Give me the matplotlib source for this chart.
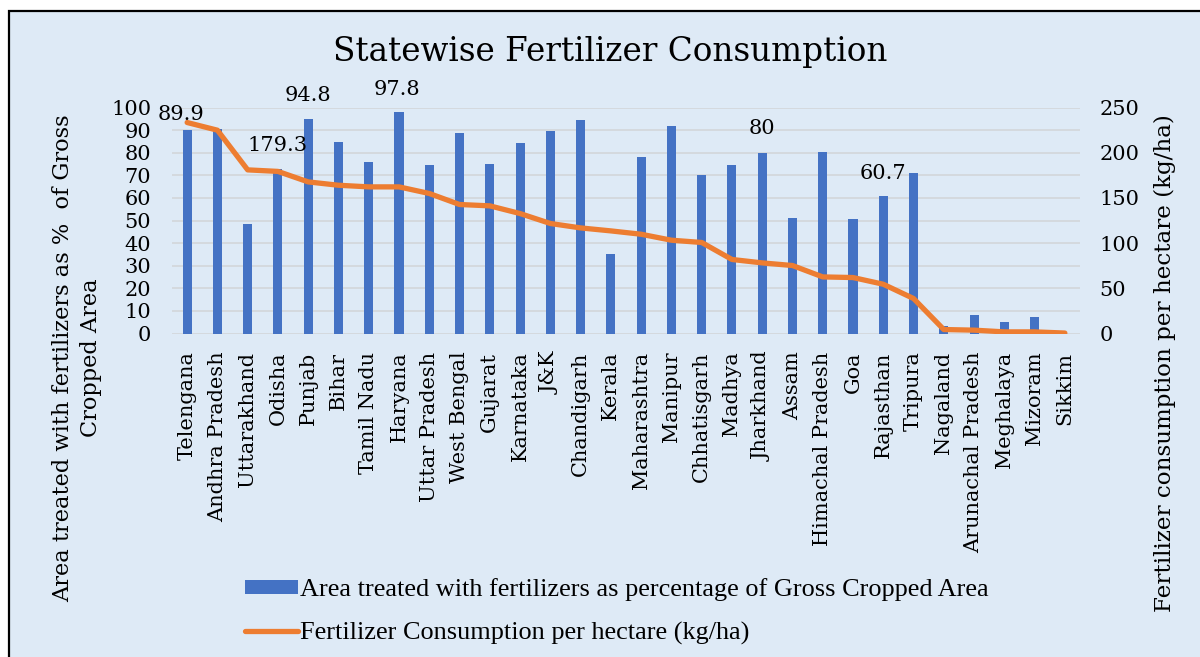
import matplotlib

matplotlib.use("Agg")
import matplotlib.pyplot as plt
import numpy as np
from matplotlib.patches import Rectangle
from matplotlib.lines import Line2D


STATES = [
    "Telengana", "Andhra Pradesh", "Uttarakhand", "Odisha", "Punjab", "Bihar",
    "Tamil Nadu", "Haryana", "Uttar Pradesh", "West Bengal", "Gujarat",
    "Karnataka", "J&K", "Chandigarh", "Kerala", "Maharashtra", "Manipur",
    "Chhatisgarh", "Madhya", "Jharkhand", "Assam", "Himachal Pradesh", "Goa",
    "Rajasthan", "Tripura", "Nagaland", "Arunachal Pradesh", "Meghalaya",
    "Mizoram", "Sikkim",
]

# % of gross cropped area treated with fertilizers
AREA_TREATED_PCT = [
    89.9, 90.5, 48.5, 72.6, 94.8, 84.7, 75.7, 97.8, 74.5, 88.9,
    75.2, 84.4, 89.6, 94.4, 35.2, 77.9, 92.0, 70.0, 74.6, 80.0,
    50.9, 80.2, 50.6, 60.7, 71.1, 3.2, 8.4, 4.9, 7.5, 0.0,
]

# fertilizer consumption, kg/ha
CONSUMPTION_KG_HA = [
    233.4, 224.9, 181.0, 179.3, 167.7, 164.0, 162.2, 162.2, 154.9, 142.7,
    141.2, 132.7, 121.7, 116.8, 113.5, 109.8, 103.2, 100.7, 81.9, 78.1,
    75.2, 62.6, 61.9, 54.5, 38.7, 4.4, 3.7, 1.8, 1.8, 0.5,
]

LABELLED_BARS = ["Telengana", "Punjab", "Haryana", "Jharkhand", "Rajasthan"]
LABELLED_LINE = ["Odisha"]

BAR_COLOR = "#4472C4"
LINE_COLOR = "#ED7D31"
BG_COLOR = "#DEEAF6"
GRID_COLOR = "#D3D6DA"
SERIF = "DejaVu Serif"

W, H = 1200, 657


def fx(px):
    return px / W


def fy(py):
    return 1 - py / H


def main():
    fig = plt.figure(figsize=(W / 100, H / 100), dpi=100)
    fig.patch.set_facecolor("white")
    fig.patches.append(
        Rectangle((fx(8.5), -0.05), 1.1, fy(10.5) + 0.05, transform=fig.transFigure,
                  facecolor=BG_COLOR, edgecolor="black", linewidth=1.6, zorder=-10)
    )

    ax = fig.add_axes([fx(172), fy(333.5), fx(1080) - fx(172), fy(107.5) - fy(333.5)])
    ax.set_facecolor("none")
    x = np.arange(len(STATES))

    ax.bar(x, AREA_TREATED_PCT, width=0.3, color=BAR_COLOR, zorder=2)
    ax.set_xlim(-0.5, len(STATES) - 0.5)
    ax.set_ylim(0, 100)
    ax.set_yticks(np.arange(0, 101, 10))
    ax.grid(axis="y", color=GRID_COLOR, linewidth=1.2, zorder=0)
    ax.set_axisbelow(True)
    ax.set_xticks(x)
    ax.set_xticklabels(STATES, rotation=90, fontsize=15, family=SERIF, va="top")
    ax.tick_params(axis="x", length=0, pad=13)
    ax.tick_params(axis="y", length=0, pad=15, labelsize=15)
    for lbl in ax.get_yticklabels():
        lbl.set_family(SERIF)
    for side in ["top", "right", "left", "bottom"]:
        ax.spines[side].set_visible(False)

    ax2 = ax.twinx()
    ax2.plot(x, CONSUMPTION_KG_HA, color=LINE_COLOR, linewidth=3.8,
             solid_joinstyle="round", solid_capstyle="round", zorder=3)
    ax2.set_ylim(0, 250)
    ax2.set_yticks(np.arange(0, 251, 50))
    ax2.tick_params(axis="y", length=0, pad=14, labelsize=15)
    for lbl in ax2.get_yticklabels():
        lbl.set_family(SERIF)
    for side in ["top", "right", "left", "bottom"]:
        ax2.spines[side].set_visible(False)

    # value labels, nudged the way the spreadsheet placed them
    bar_offsets = {"Telengana": (-6, 16), "Punjab": (0, 24), "Haryana": (-2, 23),
                   "Jharkhand": (0, 24), "Rajasthan": (0, 23)}
    for name in LABELLED_BARS:
        i = STATES.index(name)
        v = AREA_TREATED_PCT[i]
        ax2.annotate(f"{v:g}", xy=(i, v * 2.5), xytext=bar_offsets[name],
                     textcoords="offset pixels", ha="center", va="center",
                     fontsize=15, family=SERIF, zorder=5)
    for name in LABELLED_LINE:
        i = STATES.index(name)
        v = CONSUMPTION_KG_HA[i]
        ax2.annotate(f"{v:g}", xy=(i, v), xytext=(0, 26), textcoords="offset pixels",
                     ha="center", va="center", fontsize=15, family=SERIF, zorder=5)

    fig.text(fx(610), fy(52), "Statewise Fertilizer Consumption", ha="center", va="center",
             fontsize=23.5, family=SERIF)
    fig.text(fx(77), fy(358), "Area treated with fertilizers as %  of Gross\nCropped Area",
             rotation=90, ha="center", va="center", multialignment="center",
             fontsize=16.2, family=SERIF, linespacing=1.3)
    fig.text(fx(1165), fy(363), "Fertilizer consumption per hectare (kg/ha)", rotation=90,
             ha="center", va="center", fontsize=16.6, family=SERIF)

    handles = [
        Rectangle((0, 0), 1, 1, facecolor=BAR_COLOR),
        Line2D([0], [0], color=LINE_COLOR, linewidth=3.8, solid_capstyle="round"),
    ]
    labels = [
        "Area treated with fertilizers as percentage of Gross Cropped Area",
        "Fertilizer Consumption per hectare (kg/ha)",
    ]
    fig.legend(handles, labels, loc="upper left", bbox_to_anchor=(fx(245), fy(578)),
               frameon=False, borderpad=0, borderaxespad=0, handlelength=2.0,
               handleheight=0.45, handletextpad=0.1, labelspacing=0.78,
               prop={"family": "Liberation Serif", "size": 18.9})

    fig.savefig("out.png", dpi=100, facecolor=fig.get_facecolor())
    plt.close(fig)


if __name__ == "__main__":
    main()
